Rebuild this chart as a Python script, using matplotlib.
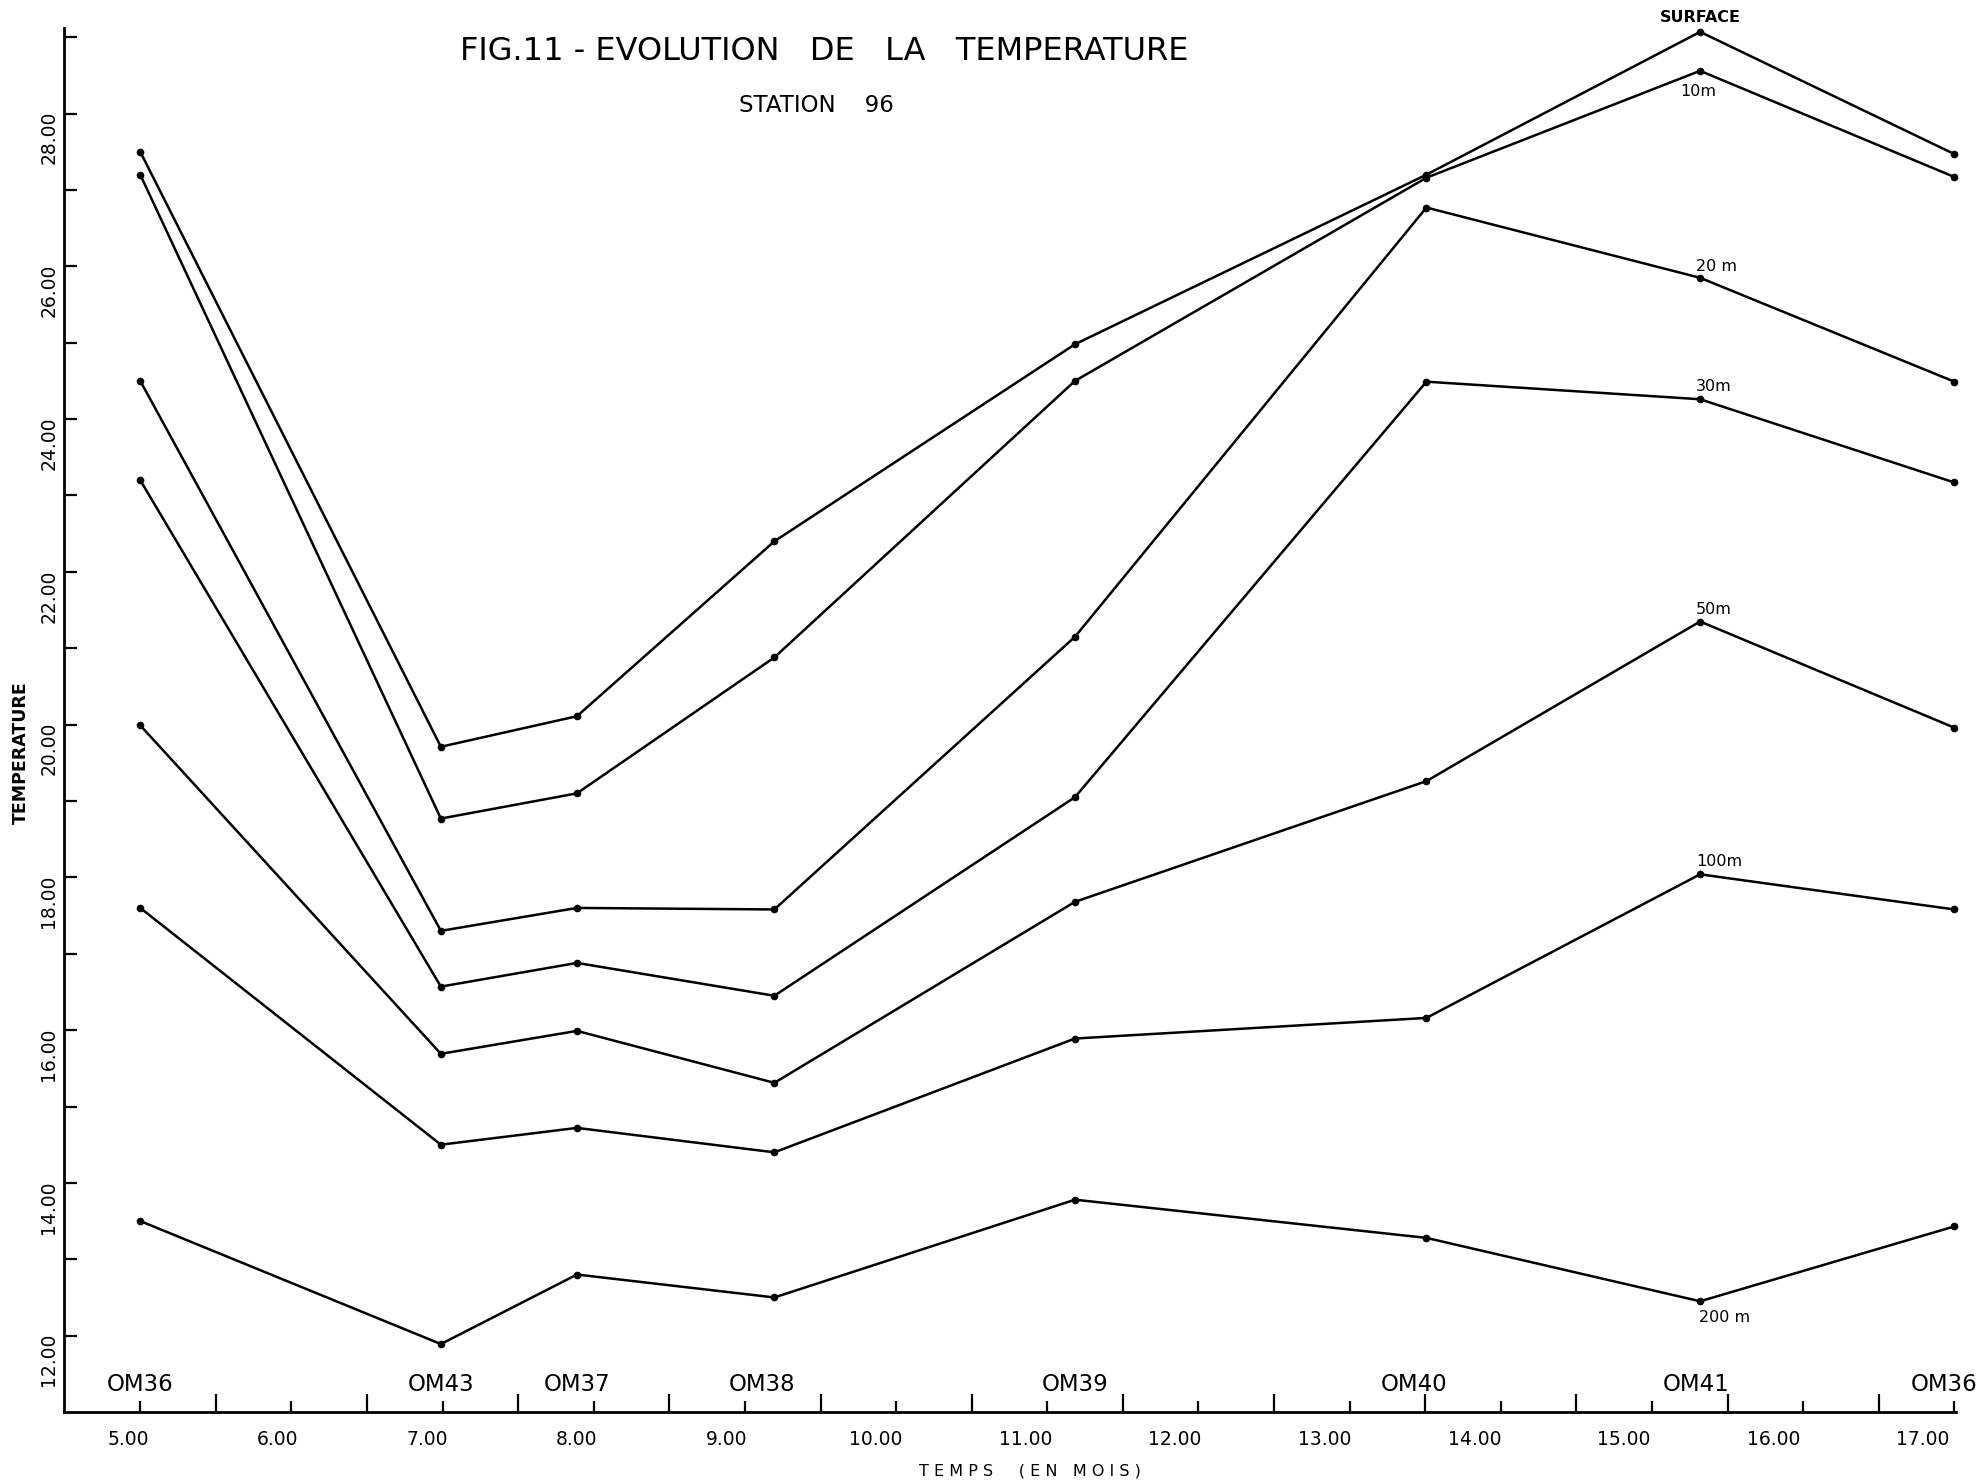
import numpy as np
import matplotlib.pyplot as plt
from matplotlib import transforms

# stations along the time axis (months)
stations = ['OM36', 'OM43', 'OM37', 'OM38', 'OM39', 'OM40', 'OM41', 'OM36']
months = [5.08, 7.09, 8.00, 9.32, 11.33, 13.68, 15.51, 17.21]

# temperature by depth
surface = [27.50, 19.71, 20.11, 22.40, 24.98, 27.20, 29.07, 27.47]
t_10m = [27.20, 18.77, 19.10, 20.88, 24.50, 27.16, 28.56, 27.17]
t_20m = [24.50, 17.30, 17.60, 17.58, 21.15, 26.77, 25.85, 24.49]
t_30m = [23.20, 16.57, 16.88, 16.45, 19.05, 24.49, 24.26, 23.17]
t_50m = [19.99, 15.69, 15.99, 15.31, 17.68, 19.26, 21.35, 19.96]
t_100m = [17.60, 14.50, 14.72, 14.40, 15.89, 16.16, 18.04, 17.58]
t_200m = [13.50, 11.89, 12.80, 12.50, 13.78, 13.28, 12.45, 13.43]

series = [surface, t_10m, t_20m, t_30m, t_50m, t_100m, t_200m]
depth_labels = ['SURFACE', '10m', '20 m', '30m', '50m', '100m', '200 m']
# label offsets (points) relative to the OM41 point
label_offsets = [(0, 10), (-1, -15), (-3, 8), (-3, 9), (-3, 9), (-3, 9), (-1, -12)]
label_ha = ['center', 'center', 'left', 'left', 'left', 'left', 'left']
# small horizontal shifts (points) of the station names
station_shift = [0, 0, 0, -9, 0, -9, -3, -7]

month_ticks = list(range(5, 18))
month_labels = ['%d.00' % m for m in month_ticks]
temp_ticks = list(range(12, 29, 2))

plt.rcParams['font.family'] = ['DejaVu Sans']

fig = plt.figure(figsize=(19.81, 14.84), dpi=100)
ax = fig.add_axes([0.0323, 0.0485, 0.955, 0.9326])

for vals in series:
    ax.plot(months, vals, color='black', linewidth=1.8, marker='o',
            markersize=4.5, clip_on=False)

# depth labels near the OM41 station
for vals, lab, off, ha in zip(series, depth_labels, label_offsets, label_ha):
    ax.annotate(lab, (months[6], vals[6]), xytext=off, textcoords='offset points',
                fontsize=11.5, fontweight='bold' if lab == 'SURFACE' else 'normal',
                ha=ha, va='center')

# station names above the time axis
for name, m, dx in zip(stations, months, station_shift):
    ax.annotate(name, (m, 11.36), xytext=(dx, 0), textcoords='offset points',
                fontsize=16.5, ha='center', va='center', annotation_clip=False)

ax.set_xlim(4.57, 17.22)
ax.set_ylim(11.0, 29.12)

for s in ['top', 'right']:
    ax.spines[s].set_visible(False)
ax.spines['left'].set_linewidth(2)
ax.spines['bottom'].set_linewidth(2)

# y axis: labelled even values, minor odd values
ax.set_yticks(temp_ticks)
ax.set_yticklabels(['%.2f' % t for t in temp_ticks], rotation=90, va='center', fontsize=13.5)
ax.set_yticks(list(range(13, 30, 2)), minor=True)
ax.tick_params(axis='y', which='both', direction='in', length=9, width=1.6, pad=4)
shift = transforms.ScaledTranslation(0, -0.24, fig.dpi_scale_trans)
for lab in ax.get_yticklabels():
    lab.set_transform(lab.get_transform() + shift)

# x axis: alternating short / long tick marks
tick_pos = np.linspace(months[0], months[-1], 25)
ax.set_xticks(tick_pos[1::2])
ax.set_xticks(tick_pos[0::2], minor=True)
ax.set_xticklabels([])
ax.tick_params(axis='x', which='major', direction='in', length=13, width=1.6)
ax.tick_params(axis='x', which='minor', direction='in', length=8, width=1.6)

secax = ax.secondary_xaxis('bottom')
secax.set_xticks(month_ticks)
secax.set_xticklabels(month_labels, fontsize=13.5)
secax.tick_params(length=0, pad=13)
secax.spines['bottom'].set_visible(False)

fig.text(0.52, 0.009, 'T E M P S     ( E N   M O I S )', fontsize=11.5, ha='center', va='center')
fig.text(0.0106, 0.493, 'TEMPERATURE', fontsize=12.5, fontweight='bold',
         rotation=90, ha='center', va='center')
fig.text(0.416, 0.9656, 'FIG.11 - EVOLUTION   DE   LA   TEMPERATURE', fontsize=23,
         ha='center', va='center')
fig.text(0.412, 0.929, 'STATION    96', fontsize=16.5, ha='center', va='center')

fig.savefig('out.png', dpi=100)
